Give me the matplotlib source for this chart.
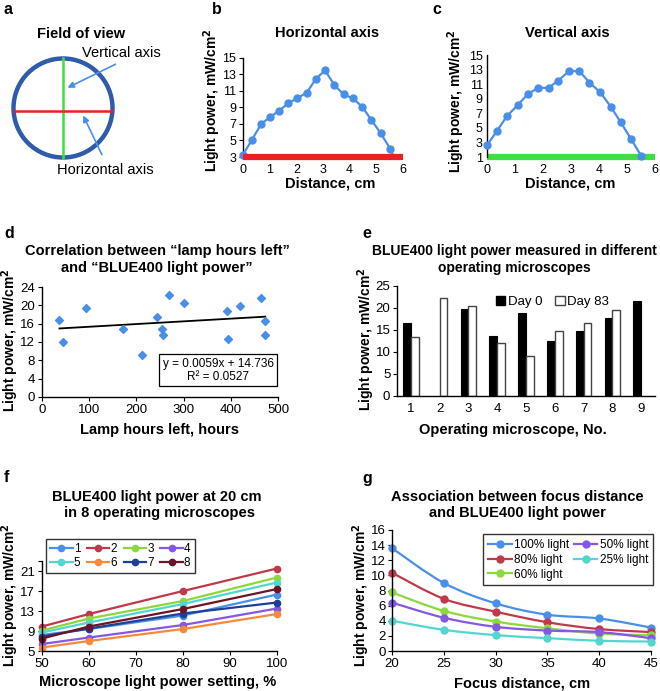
import numpy as np
import matplotlib
matplotlib.use('Agg')
import matplotlib.pyplot as plt
from matplotlib.patches import Circle, Patch, PathPatch
from matplotlib.lines import Line2D
from matplotlib.path import Path

plt.rcParams['font.family'] = ['Liberation Sans', 'DejaVu Sans']
plt.rcParams['axes.linewidth'] = 1.0

# --- data ---
# b: light power along horizontal axis
b_dist = [0, 0.34, 0.68, 1.0, 1.35, 1.69, 2.02, 2.39, 2.74, 3.08, 3.43, 3.77, 4.12, 4.47, 4.81, 5.16, 5.52, 5.65]
b_power = [3.3, 5.1, 7.0, 7.8, 8.6, 9.5, 10.1, 10.8, 12.5, 13.5, 11.7, 10.6, 10.1, 9.1, 7.5, 5.9, 4.0, 3.0]

# c: light power along vertical axis
c_dist = [0, 0.36, 0.71, 1.09, 1.45, 1.82, 2.2, 2.55, 2.93, 3.3, 3.66, 4.04, 4.42, 4.77, 5.14, 5.5]
c_power = [2.6, 4.6, 6.6, 8.1, 9.6, 10.5, 10.5, 11.5, 12.8, 12.8, 11.2, 9.9, 7.9, 5.8, 3.5, 1.2]

# d: lamp hours left vs light power
d_hours = [37, 44, 93, 172, 211, 244, 255, 256, 269, 301, 393, 395, 420, 463, 473, 473]
d_power = [16.7, 12.0, 19.4, 14.85, 9.1, 17.5, 14.85, 13.5, 22.3, 20.6, 18.7, 12.6, 19.75, 21.65, 16.5, 13.5]
trend_slope = 0.0059
trend_icpt = 14.736

# e: per microscope, day 0 and day 83
scopes = [1, 2, 3, 4, 5, 6, 7, 8, 9]
day0 = [16.6, None, 19.8, 13.6, 18.8, 12.6, 14.8, 17.7, 21.7]
day83 = [13.4, 22.3, 20.5, 12.0, 9.2, 14.8, 16.7, 19.5, None]

# f: power at 20 cm vs light setting
settings = [50, 60, 80, 100]
f_series = {
    '1': [8.2, 9.4, 12.1, 16.3],
    '2': [9.9, 12.4, 17.0, 21.5],
    '3': [9.1, 11.5, 15.0, 19.7],
    '4': [6.4, 7.7, 10.2, 13.5],
    '5': [8.7, 10.7, 14.4, 18.7],
    '6': [5.7, 7.0, 9.4, 12.4],
    '7': [7.9, 9.5, 12.5, 14.7],
    '8': [7.5, 9.9, 13.4, 17.4],
}
f_colors = {'1': '#4a8fe7', '2': '#c0394b', '3': '#8cd93c', '4': '#8557e3',
            '5': '#52d6cf', '6': '#f58a3c', '7': '#1f3f99', '8': '#6b1427'}

# g: focus distance vs power
focus = [20, 25, 30, 35, 40, 45]
g_series = {
    '100% light': [13.6, 9.0, 6.3, 4.8, 4.3, 3.1],
    '80% light': [10.35, 6.9, 5.2, 3.8, 2.9, 2.5],
    '60% light': [7.75, 5.3, 3.9, 3.0, 2.3, 2.1],
    '50% light': [6.4, 4.4, 3.2, 2.7, 2.5, 1.7],
    '25% light': [4.0, 2.8, 2.1, 1.7, 1.35, 1.25],
}
g_colors = {'100% light': '#4a8fe7', '80% light': '#c0394b', '60% light': '#8cd93c',
            '50% light': '#8557e3', '25% light': '#52d6cf'}

W, H = 660, 691
fig = plt.figure(figsize=(W / 100, H / 100), dpi=100)

def box(x0, y0, x1, y1):
    # pixel box (top-left origin) -> figure fraction rect
    return [x0 / W, 1 - y1 / H, (x1 - x0) / W, (y1 - y0) / H]

def ftext(x, y, s, **kw):
    kw.setdefault('ha', 'center')
    kw.setdefault('va', 'center')
    fig.text(x / W, 1 - y / H, s, **kw)

BLUE = '#4a8fe7'
YLAB = 'Light power, mW/cm$^\\mathbf{2}$'

# panel letters
for lt, x, y in [('a', 4, 10), ('b', 212, 10), ('c', 432, 10), ('d', 4, 233),
                 ('e', 362, 233), ('f', 4, 478), ('g', 362, 479)]:
    ftext(x, y, lt, ha='left', fontsize=11.5, fontweight='bold')

# ---- a: field of view sketch ----
ax = fig.add_axes(box(0, 0, 200, 200))
ax.set_xlim(0, 200)
ax.set_ylim(200, 0)
ax.axis('off')
ax.plot([63, 63], [58, 158], color='#3ee03e', lw=1.8)
ax.plot([14, 112], [111, 111], color='#e8231e', lw=1.8)
ax.add_patch(Circle((63, 108), 49.5, fill=False, ec='#2e5baa', lw=3.2))
ax.text(81.5, 34, 'Field of view', ha='center', va='center', fontsize=10.5, fontweight='bold')
ax.text(82, 53, 'Vertical axis', ha='left', va='center', fontsize=10.5)
ax.text(57, 170, 'Horizontal axis', ha='left', va='center', fontsize=10.5)
ax.annotate('', xy=(65, 89), xytext=(118, 63),
            arrowprops=dict(arrowstyle='-|>', color=BLUE, lw=1.2, mutation_scale=9))
ax.annotate('', xy=(82, 113), xytext=(103, 157),
            arrowprops=dict(arrowstyle='-|>', color=BLUE, lw=1.2, mutation_scale=9))

# ---- b ----
ax = fig.add_axes(box(243, 58, 403, 157))
ax.plot(b_dist, b_power, color=BLUE, lw=1.6, marker='o', ms=5,
        markevery=list(range(len(b_dist) - 1)), clip_on=False, zorder=3)
ax.plot([0, 6], [3, 3], color='#e8231e', lw=4.5, clip_on=False, zorder=4, solid_capstyle='butt')
ax.set_xlim(0, 6)
ax.set_ylim(3, 15)
ax.set_yticks([3, 5, 7, 9, 11, 13, 15])
ax.set_xticks(range(7))
for s in ['top', 'right', 'bottom']:
    ax.spines[s].set_visible(False)
ax.tick_params(axis='x', length=0, pad=5, labelsize=9)
ax.tick_params(axis='y', length=3, labelsize=9, pad=2)
ftext(327, 33, 'Horizontal axis', fontsize=10.5, fontweight='bold')
ftext(330, 183, 'Distance, cm', fontsize=10.5, fontweight='bold')
ftext(212, 100, YLAB, rotation=90, fontsize=10, fontweight='bold')

# ---- c ----
ax = fig.add_axes(box(487, 55, 655, 157))
ax.plot(c_dist, c_power, color=BLUE, lw=1.6, marker='o', ms=5, clip_on=False, zorder=3)
ax.plot([0, 6], [1, 1], color='#3ee03e', lw=4.5, clip_on=False, zorder=2, solid_capstyle='butt')
ax.set_xlim(0, 6)
ax.set_ylim(1, 15)
ax.set_yticks([1, 3, 5, 7, 9, 11, 13, 15])
ax.set_xticks(range(7))
for s in ['top', 'right', 'bottom']:
    ax.spines[s].set_visible(False)
ax.tick_params(axis='x', length=0, pad=5, labelsize=9)
ax.tick_params(axis='y', length=0, labelsize=9, pad=3)
ftext(567, 33, 'Vertical axis', fontsize=10.5, fontweight='bold')
ftext(570, 183, 'Distance, cm', fontsize=10.5, fontweight='bold')
ftext(456, 101, YLAB, rotation=90, fontsize=10, fontweight='bold')

# ---- d ----
ax = fig.add_axes(box(42, 287, 278, 397))
ax.scatter(d_hours, d_power, marker='D', s=16, color=BLUE, zorder=3)
tx = np.array([min(d_hours), max(d_hours)])
ax.plot(tx, trend_slope * tx + trend_icpt, color='black', lw=1.3)
ax.set_xlim(0, 500)
ax.set_ylim(0, 24)
ax.set_xticks(range(0, 501, 100))
ax.set_yticks(range(0, 25, 4))
for s in ['top', 'right']:
    ax.spines[s].set_visible(False)
ax.tick_params(length=3, labelsize=9.5, pad=2)
ax.text(0.746, 0.241, 'y = 0.0059x + 14.736\nR² = 0.0527', transform=ax.transAxes,
        ha='center', va='center', fontsize=8.5, linespacing=1.1,
        bbox=dict(boxstyle='square,pad=0.3', fc='white', ec='black', lw=0.9))
ftext(157, 251, 'Correlation between \u201clamp hours left\u201d', fontsize=10.5, fontweight='bold')
ftext(157, 268, 'and \u201cBLUE400 light power\u201d', fontsize=10.5, fontweight='bold')
ftext(159, 430, 'Lamp hours left, hours', fontsize=10.5, fontweight='bold')
ftext(10, 340, YLAB, rotation=90, fontsize=10, fontweight='bold')

# ---- e ----
ax = fig.add_axes(box(396.6, 286, 655.4, 396))
bw = 0.27
for i, n in enumerate(scopes):
    if day0[i] is not None:
        ax.bar(n - bw / 2, day0[i], width=bw, color='black', edgecolor='black', lw=0.8)
    if day83[i] is not None:
        ax.bar(n + bw / 2, day83[i], width=bw, color='white', edgecolor='#444444', lw=1.0)
ax.set_xlim(0.5, 9.5)
ax.set_ylim(0, 25)
ax.set_xticks(scopes)
ax.set_yticks(range(0, 26, 5))
for s in ['top', 'right']:
    ax.spines[s].set_visible(False)
ax.tick_params(axis='x', length=0, pad=5, labelsize=9.5)
ax.tick_params(axis='y', length=3, labelsize=9.5, pad=1.5)
ax.legend(handles=[Patch(fc='black', ec='black', label='Day 0'),
                   Patch(fc='white', ec='#444444', label='Day 83')],
          loc='upper center', bbox_to_anchor=(0.602, 1.02), ncol=2, frameon=False,
          fontsize=9.5, handlelength=0.7, handleheight=0.7, handletextpad=0.2,
          columnspacing=1.0)
ftext(514, 251, 'BLUE400 light power measured in different', fontsize=10, fontweight='bold')
ftext(514, 268, 'operating microscopes', fontsize=10, fontweight='bold')
ftext(513, 430, 'Operating microscope, No.', fontsize=10.5, fontweight='bold')
ftext(366, 339, YLAB, rotation=90, fontsize=10, fontweight='bold')

# ---- f ----
ax = fig.add_axes(box(42, 561, 277, 651))
handles = {}
for name, vals in f_series.items():
    h, = ax.plot(settings, vals, color=f_colors[name], lw=1.6, marker='o', ms=4.5,
                 clip_on=False, label=name)
    handles[name] = h
ax.set_xlim(50, 100)
ax.set_ylim(5, 23)
ax.set_xticks(range(50, 101, 10))
ax.set_yticks([5, 9, 13, 17, 21, 23])
ax.set_yticklabels(['5', '9', '13', '17', '21', ''])
for s in ['top', 'right']:
    ax.spines[s].set_visible(False)
ax.tick_params(length=3, labelsize=9.5, pad=2)
order = ['1', '5', '2', '6', '3', '7', '4', '8']
leg = ax.legend([handles[k] for k in order], order, ncol=4, loc='upper left',
                bbox_to_anchor=(0.017, 1.244), borderaxespad=0, fontsize=8.5,
                fancybox=False, edgecolor='#333333', handlelength=1.9, handletextpad=0.1,
                columnspacing=0.55, borderpad=0.35, labelspacing=0.15, framealpha=1)
leg.get_frame().set_linewidth(1.0)
ftext(157, 497, 'BLUE400 light power at 20 cm', fontsize=10.5, fontweight='bold')
ftext(157, 513, ' in 8 operating microscopes', fontsize=10.5, fontweight='bold')
ftext(158, 682, 'Microscope light power setting, %', fontsize=10.5, fontweight='bold')
ftext(10, 595, YLAB, rotation=90, fontsize=10, fontweight='bold')

# ---- g ----
def smooth_path(xs, ys):
    pts = np.column_stack([xs, ys]).astype(float)
    verts = [pts[0]]
    codes = [Path.MOVETO]
    n = len(pts)
    for i in range(n - 1):
        p0 = pts[i - 1] if i > 0 else pts[i]
        p1 = pts[i]
        p2 = pts[i + 1]
        p3 = pts[i + 2] if i + 2 < n else pts[i + 1]
        verts += [p1 + (p2 - p0) / 6, p2 - (p3 - p1) / 6, p2]
        codes += [Path.CURVE4] * 3
    return Path(verts, codes)

ax = fig.add_axes(box(392, 530, 651, 651))
g_handles = []
for name, vals in g_series.items():
    c = g_colors[name]
    ax.add_patch(PathPatch(smooth_path(focus, vals), fill=False, ec=c, lw=1.6))
    ax.plot(focus, vals, ls='none', marker='o', ms=5, color=c, clip_on=False)
    g_handles.append(Line2D([], [], color=c, lw=1.6, marker='o', ms=5, label=name))
ax.set_xlim(20, 45)
ax.set_ylim(0, 16)
ax.set_xticks(range(20, 46, 5))
ax.set_yticks(range(0, 17, 2))
for s in ['top', 'right']:
    ax.spines[s].set_visible(False)
ax.tick_params(axis='x', length=3, labelsize=9.5, pad=2)
ax.tick_params(axis='y', length=3, labelsize=9.5, pad=1.5)
leg = ax.legend(handles=g_handles, ncol=2, loc='upper right', bbox_to_anchor=(1.008, 0.967),
                borderaxespad=0, fontsize=8.5, fancybox=False, edgecolor='#333333',
                handlelength=2.0, handletextpad=0.2, columnspacing=0.4, borderpad=0.4,
                labelspacing=0.25, framealpha=1)
leg.get_frame().set_linewidth(1.0)
ftext(517, 497, 'Association between focus distance', fontsize=10.5, fontweight='bold')
ftext(517, 513, 'and BLUE400 light power', fontsize=10.5, fontweight='bold')
ftext(522, 683, 'Focus distance, cm', fontsize=10.5, fontweight='bold')
ftext(361, 595, YLAB, rotation=90, fontsize=10, fontweight='bold')

fig.savefig('out.png', dpi=100)
